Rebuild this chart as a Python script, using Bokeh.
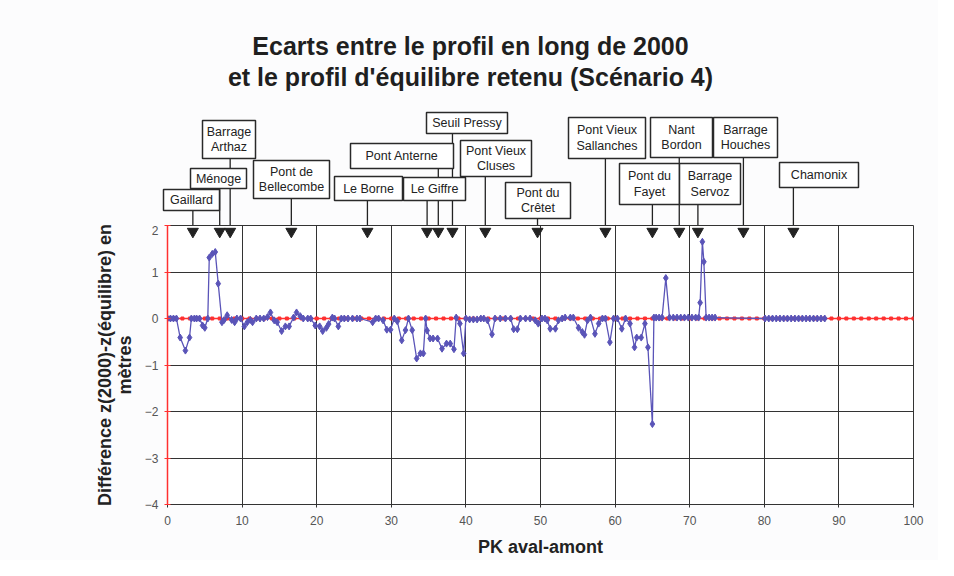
from bokeh.plotting import figure
from bokeh.models import Range1d, FixedTicker, ColumnDataSource
from bokeh.layouts import column
from bokeh.embed import file_html
from bokeh.resources import INLINE
from bokeh.core.properties import value

# ---------------- data ----------------
pk_km = [0.0, 0.4, 0.8, 1.2, 1.7, 2.4, 2.95, 3.2, 3.6, 3.9, 4.3, 4.7, 5.0, 5.4, 5.6, 6.0, 6.4, 6.8,
         7.3, 7.6, 8.0, 8.6, 9.0, 9.3, 9.8, 10.3, 10.7, 11.1, 11.4, 11.9, 12.4, 12.9, 13.4, 13.8,
         14.3, 14.7, 15.3, 15.8, 16.3, 16.9, 17.3, 17.8, 18.2, 18.8, 19.2, 19.8, 20.4, 20.8, 21.3,
         21.6, 22.1, 22.4, 22.9, 23.3, 23.7, 24.2, 24.8, 25.4, 25.8, 27.5, 27.9, 28.3, 28.9, 29.4,
         29.9, 30.4, 30.8, 31.4, 31.9, 32.3, 32.8, 33.4, 33.9, 34.3, 34.6, 34.8, 35.2, 35.6, 36.2,
         36.8, 37.4, 37.9, 38.4, 38.7, 39.2, 39.7, 40.0, 40.5, 41.0, 41.5, 42.0, 42.4, 42.9, 43.5,
         43.9, 44.6, 45.3, 46.0, 46.4, 46.9, 47.3, 48.0, 48.6, 49.3, 49.7, 50.2, 50.6, 50.9, 51.3,
         52.0, 52.4, 52.9, 53.3, 54.0, 54.4, 55.1, 55.6, 55.9, 56.3, 56.7, 57.3, 57.8, 58.3, 58.7,
         59.3, 59.8, 60.3, 60.9, 61.4, 62.0, 62.6, 62.9, 63.5, 64.0, 64.4, 65.0, 65.2, 65.5, 65.9,
         66.3, 66.8, 67.3, 67.8, 68.3, 68.8, 69.3, 69.8, 70.3, 70.8, 71.2, 71.4, 71.7, 71.9, 72.2,
         72.6, 73.0, 73.4, 80.1, 80.6, 81.1, 81.6, 82.1, 82.6, 83.1, 83.6, 84.1, 84.6, 85.1, 85.6,
         86.1, 86.6, 87.1, 87.6, 88.1]
diff_m = [0.0, 0.0, 0.0, 0.0, -0.41, -0.69, -0.41, 0.0, 0.0, 0.0, 0.0, -0.15, -0.2, 0.0, 1.31, 1.39, 1.43, 0.75,
          -0.08, -0.03, 0.07, -0.03, -0.08, 0.0, 0.0, -0.17, -0.08, -0.03, -0.08, 0.0, 0.0, 0.0, 0.03, 0.13,
          -0.04, -0.08, -0.27, -0.17, -0.17, 0.02, 0.13, 0.05, 0.0, 0.0, 0.0, -0.15, -0.17, -0.27, -0.2,
          -0.12, 0.02, 0.0, -0.17, 0.0, 0.0, 0.0, 0.0, 0.0, 0.0, -0.08, 0.0, 0.0, -0.04, -0.24,
          -0.24, 0.0, -0.06, -0.47, -0.25, 0.0, -0.25, -0.86, -0.75, -0.75, 0.0, -0.26, -0.43, -0.43, -0.43,
          -0.65, -0.54, -0.54, -0.66, 0.02, -0.11, -0.75, 0.0, -0.02, -0.02, -0.02, 0.0, 0.0, -0.04, -0.34,
          0.0, 0.0, 0.0, 0.0, -0.23, -0.23, 0.0, 0.0, 0.0, -0.04, -0.11, 0.0, 0.0, -0.04, -0.22,
          -0.22, -0.04, 0.0, 0.02, 0.02, 0.02, -0.2, -0.29, -0.35, -0.04, 0.02, -0.33, -0.11, 0.0, 0.0,
          -0.51, 0.0, 0.0, -0.22, 0.0, -0.11, -0.62, -0.41, -0.41, -0.11, -0.62, -2.27, 0.02, 0.02, 0.02,
          0.02, 0.87, 0.02, 0.02, 0.02, 0.02, 0.02, 0.02, 0.02, 0.02, 0.02, 0.34, 1.65, 1.22, 0.02,
          0.02, 0.02, 0.02, 0.0, 0.0, 0.0, 0.0, 0.0, 0.0, 0.0, 0.0, 0.0, 0.0, 0.0, 0.0,
          0.0, 0.0, 0.0, 0.0, 0.0]

eq_km = [0, 1, 2, 3, 4, 5, 6, 7, 8, 9, 10, 11, 12, 13, 14, 15, 16, 17, 18, 19, 20, 21, 22, 23, 24, 25,
         26, 27, 28, 29, 30, 31, 32, 33, 34, 35, 36, 37, 38, 39, 40, 41, 42, 43, 44, 45, 46, 47, 48, 49, 50,
         51, 52, 53, 54, 55, 56, 57, 58, 59, 60, 61, 62, 63, 64, 65, 66, 67, 68, 69, 70, 71, 72, 73, 74, 75,
         76, 77, 78, 79, 80, 81, 82, 83, 84, 85, 86, 87, 88, 89, 90, 91, 92, 93, 94, 95, 96, 97, 98, 99, 100]
eq_m = [0, 0, 0, 0, 0, 0, 0, 0, 0, 0, 0, 0, 0, 0, 0, 0, 0, 0, 0, 0, 0, 0, 0, 0, 0, 0,
        0, 0, 0, 0, 0, 0, 0, 0, 0, 0, 0, 0, 0, 0, 0, 0, 0, 0, 0, 0, 0, 0, 0, 0, 0,
        0, 0, 0, 0, 0, 0, 0, 0, 0, 0, 0, 0, 0, 0, 0, 0, 0, 0, 0, 0, 0, 0, 0, 0, 0,
        0, 0, 0, 0, 0, 0, 0, 0, 0, 0, 0, 0, 0, 0, 0, 0, 0, 0, 0, 0, 0, 0, 0, 0, 0]

x_ticks = [0, 10, 20, 30, 40, 50, 60, 70, 80, 90, 100]
y_ticks = [-4, -3, -2, -1, 0, 1, 2]

landmark_names = ["Gaillard", "Ménoge", "Barrage\nArthaz", "Pont de\nBellecombe", "Le Borne",
                  "Le Giffre", "Pont Anterne", "Seuil Pressy", "Pont Vieux\nCluses", "Pont du\nCrêtet",
                  "Pont Vieux\nSallanches", "Pont du\nFayet", "Nant\nBordon", "Barrage\nServoz",
                  "Barrage\nHouches", "Chamonix"]
landmark_pk = [3.4, 7.0, 8.4, 16.6, 26.8, 34.8, 36.3, 38.2, 42.6, 49.6, 58.7, 65.0, 68.6, 71.1, 77.2, 83.9]

title_lines = ["Ecarts entre le profil en long de 2000", "et le profil d'équilibre retenu (Scénario 4)"]

# ---------------- layout (page pixels) of the label boxes ----------------
box_px = [(163, 219, 189, 210), (190, 246, 168, 188), (202, 255, 120, 158), (253, 329, 160, 198),
          (334, 402, 176, 200), (403, 465, 177, 200), (350, 453, 143, 168), (426, 507, 112, 133),
          (460, 531, 140, 176), (505, 570, 182, 218), (568, 645, 117, 158), (619, 679, 163, 204),
          (650, 712, 117, 157), (679, 740, 163, 204), (713, 777, 117, 157), (779, 858, 162, 187)]

FONT = "Liberation Sans"
BG = "#fcfcfd"
W = 938
TOP_H = 225
MAIN_H = 335
X0PX, PXX = 167.0, 7.46      # page x of km 0, pixels per km
YTOPPX, PXY = 225.0, 46.5    # page y of value 2, pixels per metre


def X(px):
    return (px - X0PX) / PXX


def Y(py):
    return 2 + (YTOPPX - py) / PXY


# ---------------- top strip: title and landmark boxes ----------------
top = figure(width=W, height=TOP_H, x_range=Range1d(X(0), X(W)), y_range=Range1d(Y(TOP_H), Y(0)),
             toolbar_location=None, output_backend="svg", x_axis_location=None, y_axis_location=None,
             min_border=0, min_border_left=0, min_border_right=0, min_border_top=0, min_border_bottom=0)
top.frame_align = False
top.grid.visible = False
top.outline_line_color = None
top.background_fill_color = BG
top.border_fill_color = BG

top.text(x=[X(470), X(470)], y=[Y(45), Y(76)], text=title_lines, text_font=value(FONT),
         text_font_style="bold", text_font_size="25px", text_color="#1f1f1f",
         text_align="center", text_baseline="middle")

seg = dict(x0=landmark_pk, x1=landmark_pk, y0=[Y(b[3]) for b in box_px], y1=[2] * len(landmark_pk))
top.segment(x0="x0", y0="y0", x1="x1", y1="y1", source=ColumnDataSource(seg), line_color="#222", line_width=1.3)

top.quad(left=[X(b[0]) for b in box_px], right=[X(b[1]) for b in box_px],
         top=[Y(b[2]) for b in box_px], bottom=[Y(b[3]) for b in box_px],
         fill_color="white", line_color="#2a2a2a", line_width=1.5)

tx, ty, tt = [], [], []
for name, b in zip(landmark_names, box_px):
    lines = name.split("\n")
    cx = (b[0] + b[1]) / 2
    cy = (b[2] + b[3]) / 2
    n = len(lines)
    for i, ln in enumerate(lines):
        tx.append(X(cx))
        ty.append(Y(cy + (i - (n - 1) / 2) * 15.5))
        tt.append(ln)
top.text(x=tx, y=ty, text=tt, text_font=value(FONT), text_font_size="12.5px", text_color="#222",
         text_align="center", text_baseline="middle")

# ---------------- main chart ----------------
p = figure(width=W, height=MAIN_H, x_range=Range1d(0, 100), y_range=Range1d(-4, 2),
           toolbar_location=None, output_backend="svg",
           min_border_left=167, min_border_right=W - 913, min_border_top=0,
           min_border_bottom=MAIN_H - (504 - TOP_H))
p.frame_align = False
p.background_fill_color = "white"
p.border_fill_color = BG
p.outline_line_color = "#333"
p.outline_line_width = 1

p.xaxis.ticker = FixedTicker(ticks=x_ticks)
p.yaxis.ticker = FixedTicker(ticks=y_ticks)
p.xgrid.ticker = FixedTicker(ticks=x_ticks)
p.ygrid.ticker = FixedTicker(ticks=y_ticks)
p.grid.grid_line_color = "#333"
p.grid.grid_line_width = 1
p.grid.grid_line_alpha = 1

p.xaxis.axis_label = "PK aval-amont"
p.yaxis.axis_label = "Différence z(2000)-z(équilibre) en\nmètres"
for ax in (p.xaxis[0], p.yaxis[0]):
    ax.axis_label_text_font = FONT
    ax.axis_label_text_font_style = "bold"
    ax.axis_label_text_color = "#222"
    ax.axis_label_text_font_size = "18px"
    ax.axis_label_text_line_height = 1.0
    ax.major_label_text_font = FONT
    ax.major_label_text_font_size = "12px"
    ax.major_label_text_color = "#555"
    ax.minor_tick_line_color = None
p.xaxis.axis_line_color = "#333"
p.xaxis.major_tick_line_color = "#333"
p.xaxis.major_tick_out = 3
p.xaxis.major_tick_in = 0
p.xaxis.major_label_standoff = 8
p.xaxis.axis_label_standoff = 9
p.yaxis.axis_line_color = "#ff3030"
p.yaxis.axis_line_width = 1.5
p.yaxis.major_tick_line_color = "#ff3030"
p.yaxis.major_tick_out = 3
p.yaxis.major_tick_in = 3
p.yaxis.major_label_standoff = 6
p.yaxis.axis_label_standoff = 7

# equilibrium reference line
p.line(eq_km, eq_m, line_color="#ff3030", line_width=1.5)
p.scatter(eq_km, eq_m, marker="square", size=3, color="#ff3030")

# difference series
p.line(pk_km, diff_m, line_color="#5a54b8", line_width=1.3)
p.scatter(pk_km, diff_m, marker="diamond", size=7, fill_color="#5a54b8", line_color="#5a54b8")

# arrow heads of landmark pointers
p.scatter(landmark_pk, [2 - 6 / PXY] * len(landmark_pk), marker="inverted_triangle", size=11,
          fill_color="#222", line_color="#222")

layout = column(top, p, spacing=0)
layout.styles = {"background-color": BG}
open("out.html", "w").write(file_html(layout, INLINE))
